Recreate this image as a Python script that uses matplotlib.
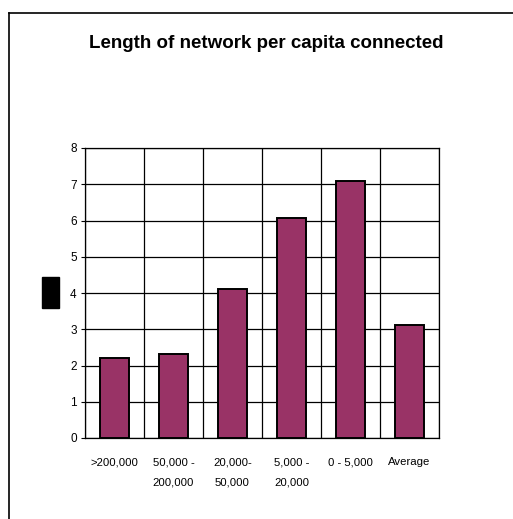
import matplotlib
matplotlib.use("Agg")
import matplotlib.pyplot as plt
import numpy as np
from matplotlib.lines import Line2D
from matplotlib.patches import Rectangle

plt.rcParams["font.family"] = ["Liberation Sans", "DejaVu Sans"]

categories = [">200,000", "50,000 -\n200,000", "20,000-\n50,000",
              "5,000 -\n20,000", "0 - 5,000", "Average"]
values = [2.21, 2.32, 4.12, 6.06, 7.10, 3.11]
y_ticks = [0, 1, 2, 3, 4, 5, 6, 7, 8]
title = "Length of network per capita connected"

W, H = 513, 519
fig = plt.figure(figsize=(W / 100, H / 100), dpi=100)
ax = fig.add_axes([85 / W, 1 - 438 / H, 354 / W, 290 / H])

x = np.arange(len(categories))
ax.bar(x, values, width=0.5, color="#993366", edgecolor="black",
       linewidth=1.4, zorder=3)

ax.set_xlim(-0.5, len(categories) - 0.5)
ax.set_ylim(0, 8)
ax.set_yticks(y_ticks)
ax.set_xticks(x)
ax.set_xticklabels(categories, fontsize=8.2, linespacing=2.3, va="top")
ax.set_xticks(np.arange(len(categories) + 1) - 0.5, minor=True)
ax.tick_params(axis="x", which="both", length=0, pad=14)
ax.tick_params(axis="y", length=3, width=0.8, labelsize=8.5, pad=3)
ax.grid(True, axis="y", which="major", color="black", linewidth=0.9, zorder=0)
ax.grid(True, axis="x", which="minor", color="black", linewidth=0.9, zorder=0)
for s in ax.spines.values():
    s.set_color("black")
    s.set_linewidth(0.9)

fig.text(266 / W, 1 - 44 / H, title, ha="center", va="center",
         fontsize=13.5, fontweight="bold")

# black box left of the axis
fig.add_artist(Rectangle((42 / W, 1 - 308 / H), 17 / W, 31 / H,
                         transform=fig.transFigure, color="black"))

# outer frame (only left and top edges are inside the picture)
fig.add_artist(Line2D([9 / W, 9 / W], [0, 1 - 13 / H], color="black", lw=1.2,
                      transform=fig.transFigure))
fig.add_artist(Line2D([9 / W, 1], [1 - 13 / H, 1 - 13 / H], color="black", lw=1.2,
                      transform=fig.transFigure))

fig.savefig("out.png", dpi=100)
